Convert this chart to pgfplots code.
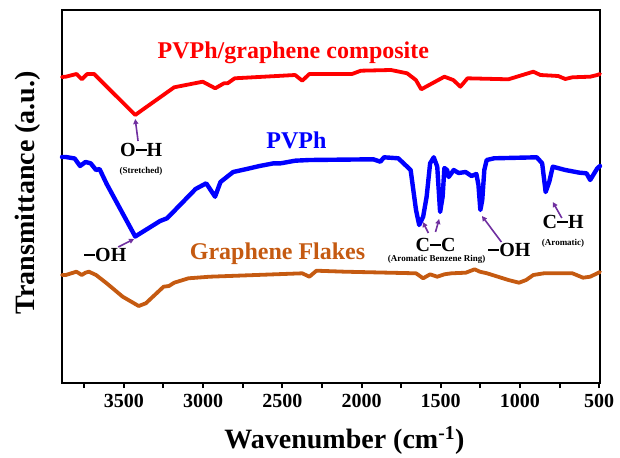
\documentclass[border=0pt]{standalone}
\usepackage{pgfplots}
\pgfplotsset{compat=1.18}
\usetikzlibrary{arrows.meta}
\usepackage{fontspec}
\setmainfont{Liberation Serif}
\definecolor{comp}{RGB}{255,0,0}
\definecolor{pvph}{RGB}{0,0,255}
\definecolor{flake}{RGB}{197,90,17}
\definecolor{arr}{RGB}{112,48,160}
\newcommand\bond{\rule[0.27em]{0.55em}{0.09em}}
\newcommand\namefont{\fontsize{24}{26}\selectfont\bfseries}
\newcommand\bandfont{\fontsize{20}{22}\selectfont\bfseries}
\newcommand\notefont{\fontsize{9}{10}\selectfont\bfseries}

\begin{document}
\begin{tikzpicture}
\begin{axis}[
  scale only axis, width=538pt, height=373pt,
  x dir=reverse, xmin=495, xmax=3890, ymin=-383, ymax=-10,
  axis line style={line width=2.4pt},
  xtick={500,1000,...,3500}, minor xtick={750,1250,...,3750},
  xtick pos=bottom, tick align=outside, ytick=\empty,
  major tick length=5pt, minor tick length=5pt,
  every tick/.style={black, line width=2pt},
  /pgf/number format/1000 sep={},
  /pgf/number format/assume math mode=true,
  x tick label style={font=\fontsize{20}{22}\selectfont\bfseries, yshift=-3pt},
  xlabel={Wavenumber (cm\textsuperscript{-1})},
  ylabel={Transmittance (a.u.)},
  label style={font=\fontsize{28}{30}\selectfont\bfseries},
  xlabel style={at={(axis description cs:0.525,-0.153)}, anchor=center},
  ylabel style={at={(axis description cs:-0.063,0.51)}, anchor=center},
  clip=false,
  every axis plot/.append style={line join=round, line cap=round},
]
% PVPh/graphene composite
\addplot[comp, line width=3.8pt] coordinates {
 (3890,-77) (3866,-76.7) (3798,-74) (3765,-79.3) (3731,-74) (3687,-74)
 (3428,-115) (3384,-110) (3182,-87.3) (3002,-81.7) (2923,-88.3) (2868,-83.3)
 (2845,-83.3) (2800,-78.3) (2419,-75) (2374,-80.7) (2329,-74) (2060,-74)
 (2004,-70.7) (1814,-70) (1712,-73.3) (1657,-80) (1623,-89.3) (1477,-76.7)
 (1421,-80) (1376,-86.7) (1331,-78.3) (1073,-79.3) (916,-71.7) (871,-75)
 (759,-76) (714,-79) (669,-77.3) (557,-76.7) (512,-75) (495,-74)
};
% PVPh
\addplot[pvph, line width=4.4pt] coordinates {
 (3890,-157) (3866,-157) (3810,-158.5) (3776,-166) (3742,-162) (3709,-163.3)
 (3675,-170) (3653,-169) (3608,-184) (3428,-236.5) (3271,-221) (3227,-218.3)
 (3047,-189) (2980,-183.3) (2924,-196.7) (2890,-182) (2810,-172) (2733,-169.3) (2643,-166)
 (2554,-163.3) (2509,-163.3) (2419,-160.7) (2329,-160) (1925,-159.3) (1881,-161.7)
 (1858,-157.3) (1768,-158.3) (1690,-170) (1656,-210) (1636,-225) (1611,-216.7)
 (1589,-196.7) (1567,-163.3) (1544,-157.3) (1522,-166.7) (1504,-212) (1488,-196.7)
 (1477,-168) (1460,-170) (1450,-177) (1418,-170) (1387,-173) (1343,-172)
 (1306,-176) (1275,-174) (1262,-185) (1250,-210) (1238,-200) (1225,-170)
 (1210,-160) (1163,-158.3) (894,-157.3)
 (860,-163.3) (838,-192) (815,-181.7) (793,-166.7) (714,-170) (624,-172.7)
 (580,-173.3) (557,-180) (512,-168.3) (495,-166)
};
% Graphene flakes
\addplot[flake, line width=3.8pt] coordinates {
 (3890,-275) (3866,-275) (3799,-271.7) (3765,-275) (3742,-272.7) (3720,-271.7)
 (3675,-275) (3608,-283.3) (3507,-296.7) (3406,-306) (3361,-303.3) (3249,-286.7)
 (3215,-286) (3182,-282.7) (3092,-278.3) (2957,-276.7) (2374,-273.3) (2329,-276.7)
 (2284,-270.7) (2105,-271.7) (1656,-273.3) (1611,-278.3) (1567,-274.3) (1522,-276.7)
 (1477,-274.3) (1432,-273.3) (1342,-272.7) (1286,-269.3) (1253,-271.7) (1208,-273.3)
 (1073,-280) (1006,-282.7) (961,-280) (916,-275) (849,-273.3) (669,-273.3)
 (602,-277.7) (557,-276.7) (512,-273.3) (495,-272)
};
\coordinate (sw) at (rel axis cs:0,0);
% series names
\node[text=comp, font=\namefont] at (axis cs:2430,-53) {PVPh/graphene composite};
\node[text=pvph, font=\namefont] at (axis cs:2411,-140) {PVPh};
\node[text=flake, font=\namefont] at (axis cs:2530,-254) {Graphene Flakes};
% band assignments
\node[font=\bandfont] at (axis cs:3391,-150) {O\bond H};
\node[font=\notefont] at (axis cs:3391,-171) {(Stretched)};
\node[font=\bandfont] at (axis cs:3617,-255) {\bond OH};
\node[font=\bandfont] at (axis cs:1532,-245) {C\bond C};
\node[font=\notefont] at (axis cs:1526,-259) {(Aromatic Benzene Ring)};
\node[font=\bandfont] at (axis cs:1067,-250) {\bond OH};
\node[font=\bandfont] at (axis cs:728,-222) {C\bond H};
\node[font=\notefont] at (axis cs:728,-243) {(Aromatic)};
\begin{scope}[arr, line width=1.6pt, -{Triangle[length=5pt,width=5pt]}]
\draw (axis cs:3410,-141) -- (axis cs:3428,-119);
\draw (axis cs:3535,-247) -- (axis cs:3435,-239);
\draw (axis cs:1578,-233) -- (axis cs:1613,-222);
\draw (axis cs:1533,-232) -- (axis cs:1510,-219);
\draw (axis cs:1117,-242) -- (axis cs:1240,-216);
\draw (axis cs:736,-218) -- (axis cs:793,-202);
\end{scope}
\end{axis}
\path (sw) ++(-62pt,-73pt) rectangle ++(620pt,456pt);
\end{tikzpicture}
\end{document}
